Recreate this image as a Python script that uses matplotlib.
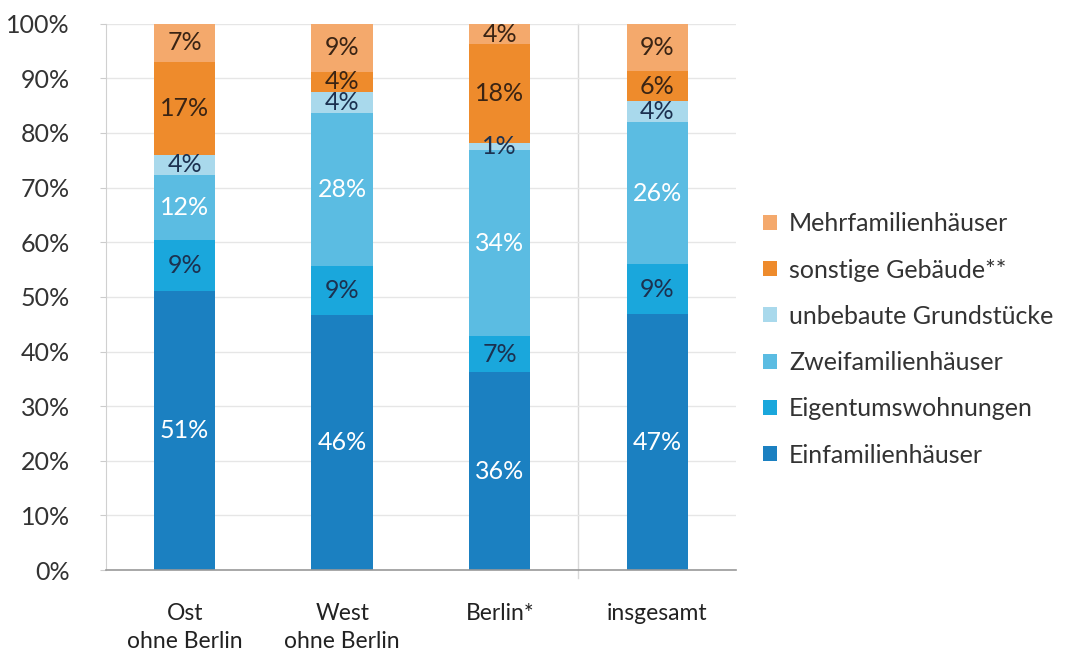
import matplotlib
matplotlib.use('Agg')
import matplotlib.pyplot as plt
import numpy as np

plt.rcParams['font.family'] = ['Lato', 'DejaVu Sans']

# categories and segment values (percent, bottom to top)
regions = ['Ost\nohne Berlin', 'West\nohne Berlin', 'Berlin*', 'insgesamt']
series = ['Einfamilienhäuser', 'Eigentumswohnungen', 'Zweifamilienhäuser',
          'unbebaute Grundstücke', 'sonstige Gebäude**', 'Mehrfamilienhäuser']
einfam = [51.1, 46.6, 36.2, 46.8]
eigentum = [9.3, 9.0, 6.6, 9.2]
zweifam = [12.0, 28.0, 34.1, 26.0]
unbebaut = [3.5, 3.9, 1.3, 3.8]
sonstige = [17.1, 3.7, 18.0, 5.5]
mehrfam = [7.0, 8.8, 3.8, 8.7]
labels = [
    ['51%', '46%', '36%', '47%'],
    ['9%', '9%', '7%', '9%'],
    ['12%', '28%', '34%', '26%'],
    ['4%', '4%', '1%', '4%'],
    ['17%', '4%', '18%', '6%'],
    ['7%', '9%', '4%', '9%'],
]
values = [einfam, eigentum, zweifam, unbebaut, sonstige, mehrfam]

colors = ['#1b80c1', '#1aa7dc', '#5bbce2', '#a9d9ec', '#ee8b2c', '#f4a96c']
text_colors = ['white', '#1c3150', 'white', '#1c3150', '#3a2414', '#3a2414']

fig = plt.figure(figsize=(10.92, 6.59), dpi=100)
ax = fig.add_axes([0.097, 0.135, 0.577, 0.829])

x = np.arange(len(regions))
bottom = np.zeros(len(regions))
handles = []
for vals, col, tcol, labs, name in zip(values, colors, text_colors, labels, series):
    bars = ax.bar(x, vals, bottom=bottom, width=0.39, color=col, label=name, zorder=2)
    handles.append(bars)
    for xi, b, v, lab in zip(x, bottom, vals, labs):
        ax.text(xi, b + v / 2, lab, ha='center', va='center', color=tcol,
                fontsize=18, zorder=3)
    bottom += np.array(vals)

ax.set_xlim(-0.5, len(regions) - 0.5)
ax.set_ylim(0, 100)
ax.set_yticks(np.arange(0, 101, 10))
ax.set_yticklabels([f'{v}%' for v in range(0, 101, 10)], fontsize=18, color='#333333')
ax.set_xticks(x)
ax.set_xticklabels(regions, fontsize=16.5, color='#222222', linespacing=1.4)
ax.tick_params(axis='x', length=0, pad=24)
ax.tick_params(axis='y', length=4, color='#cccccc', pad=22)
ax.grid(axis='y', color='#e6e6e6', linewidth=1, zorder=0)

for s in ['top', 'right']:
    ax.spines[s].set_visible(False)
ax.spines['left'].set_color('#d0d0d0')
ax.spines['bottom'].set_color('#999999')
ax.spines['bottom'].set_linewidth(1.2)

# separator between Berlin and insgesamt
ax.plot([2.5, 2.5], [-1.5, 100], color='#d8d8d8', linewidth=1, clip_on=False, zorder=1)

leg = fig.legend(handles[::-1], series[::-1], loc='upper left',
                 bbox_to_anchor=(0.678, 0.712), frameon=False, fontsize=18,
                 handlelength=0.55, handleheight=0.55, handletextpad=0.5,
                 labelspacing=0.93)
for t in leg.get_texts():
    t.set_color('#333333')

fig.savefig('out.png', dpi=100)
